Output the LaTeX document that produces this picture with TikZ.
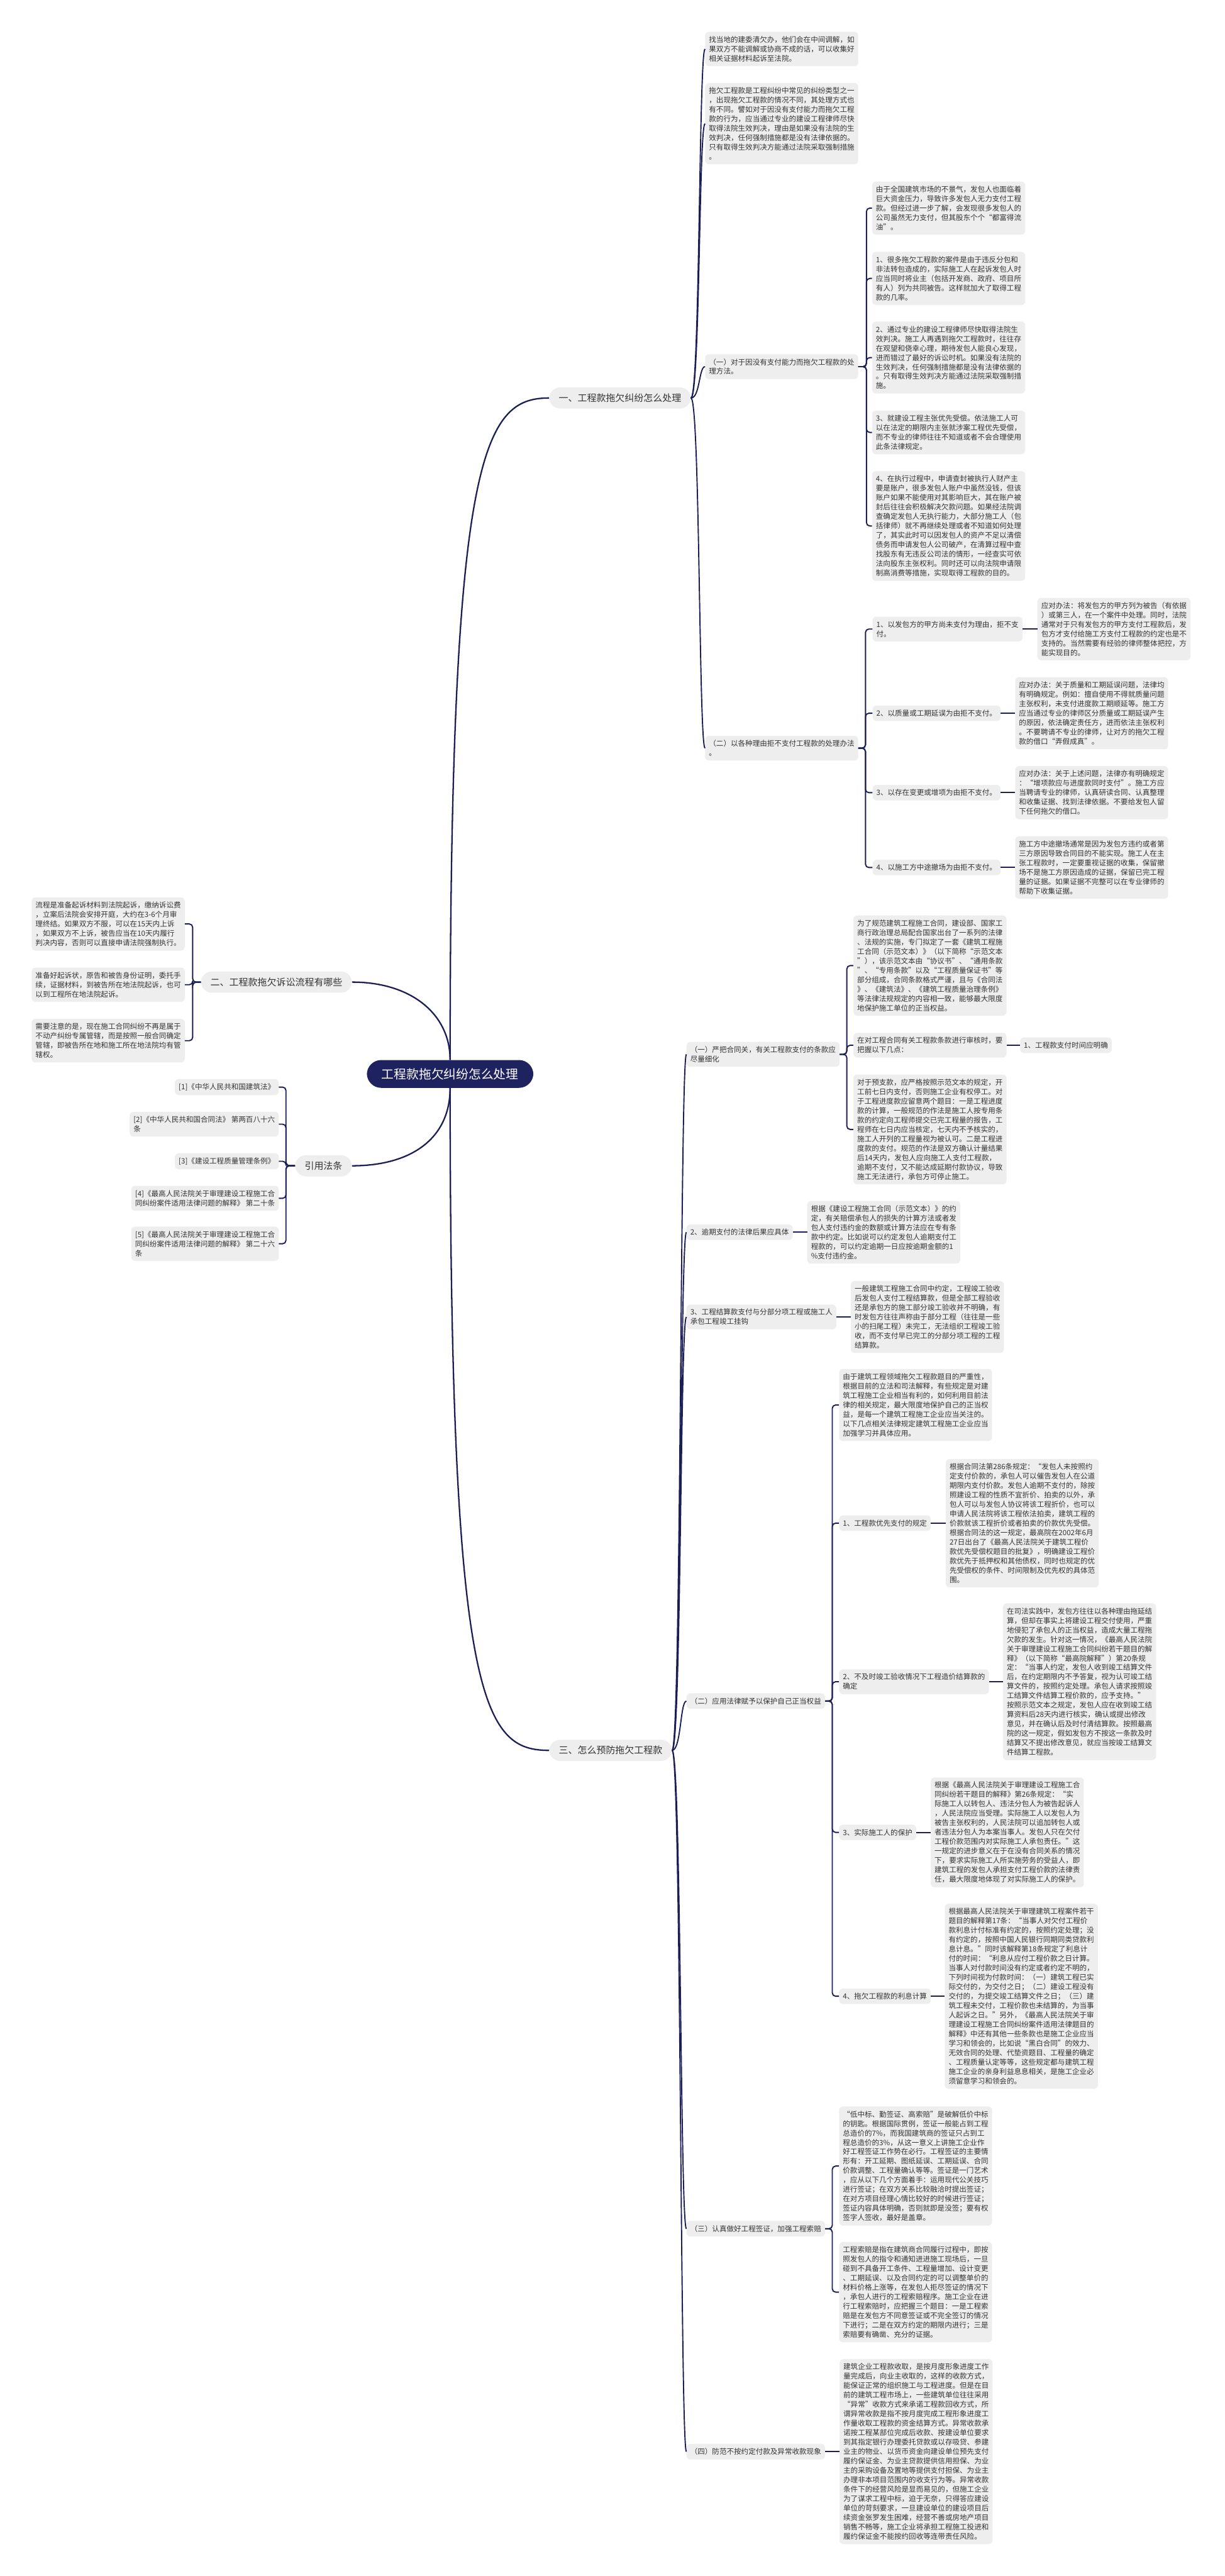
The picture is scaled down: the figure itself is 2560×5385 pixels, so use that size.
\documentclass[tikz,border=0pt]{standalone}
\usepackage{fontspec}
\setmainfont{Noto Sans CJK SC}
\usetikzlibrary{calc}
\definecolor{lc}{RGB}{27,31,84}
\definecolor{bg}{RGB}{238,238,238}
\definecolor{tc}{RGB}{51,51,51}
\definecolor{rootc}{RGB}{30,35,95}
\tikzset{
  conn/.style={draw=lc,line width=2.5pt},
  tbox/.style={fill=bg,rounded corners=8pt,align=left,inner xsep=8pt,inner ysep=9pt,
    font=\fontsize{15.2pt}{19.7pt}\selectfont,text=tc,anchor=west},
  lvlone/.style={fill=bg,rounded corners=23pt,inner xsep=20pt,inner ysep=13pt,
    font=\fontsize{19.7pt}{24pt}\selectfont,text=tc},
  rootbox/.style={fill=rootc,rounded corners=30pt,inner xsep=31pt,inner ysep=17pt,
    font=\fontsize{26pt}{30pt}\selectfont,text=white}
}
\newcommand\mmR[3]{\draw[conn,rounded corners=7pt] (#1.east) -- ++(#3,0) |- (#2.west);}
\newcommand\mmL[3]{\draw[conn,rounded corners=7pt] (#1.west) -- ++(-#3,0) |- (#2.east);}
\newcommand\mmC[2]{\draw[conn] (#1.east) .. controls +(19,0) and +(-13,0) .. (#2.west);}
\newcommand\mmS[2]{\draw[conn] (#1.east) -- (#2.west);}
\begin{document}
\begin{tikzpicture}[x=1pt,y=-1pt]
\fill[white] (0,0) rectangle (2560,5385);
\useasboundingbox (0,0) rectangle (2560,5385);

% root and level one
\node[rootbox] (root) at (941,2245) {工程款拖欠纠纷怎么处理};
\node[lvlone,anchor=west] (s1) at (1148,832) {一、工程款拖欠纠纷怎么处理};
\node[lvlone,anchor=east] (s2) at (736,2053) {二、工程款拖欠诉讼流程有哪些};
\node[lvlone,anchor=east] (s4) at (736,2437) {引用法条};
\node[lvlone,anchor=west] (s3) at (1148,3659) {三、怎么预防拖欠工程款};

\draw[conn,line width=3pt] (root.north) .. controls (941,950) and (1010,832) .. (s1.west);
\draw[conn,line width=3pt] (root.north) .. controls (941,2120) and (860,2053) .. (s2.east);
\draw[conn,line width=3pt] (root.south) .. controls (941,2380) and (860,2437) .. (s4.east);
\draw[conn,line width=3pt] (root.south) .. controls (941,3560) and (1010,3659) .. (s3.west);

% ===== section one =====
\node[tbox] (a1) at (1474,102.5) {找当地的建委清欠办，他们会在中间调解，如\\果双方不能调解或协商不成的话，可以收集好\\相关证据材料起诉至法院。};
\node[tbox] (a2) at (1474,258.5) {拖欠工程款是工程纠纷中常见的纠纷类型之一\\，出现拖欠工程款的情况不同，其处理方式也\\有不同。譬如对于因没有支付能力而拖欠工程\\款的行为，应当通过专业的建设工程律师尽快\\取得法院生效判决，理由是如果没有法院的生\\效判决，任何强制措施都是没有法律依据的。\\只有取得生效判决方能通过法院采取强制措施\\。};
\node[tbox] (a3) at (1474,766.5) {（一）对于因没有支付能力而拖欠工程款的处\\理方法。};
\node[tbox] (a4) at (1474,1564) {（二）以各种理由拒不支付工程款的处理办法\\。};
\mmC{s1}{a1}\mmC{s1}{a2}\mmC{s1}{a3}\mmC{s1}{a4}

\node[tbox] (b0) at (1823,435) {由于全国建筑市场的不景气，发包人也面临着\\巨大资金压力，导致许多发包人无力支付工程\\款。但经过进一步了解，会发现很多发包人的\\公司虽然无力支付，但其股东个个“都富得流\\油”。};
\node[tbox] (b1) at (1823,582) {1、很多拖欠工程款的案件是由于违反分包和\\非法转包造成的，实际施工人在起诉发包人时\\应当同时将业主（包括开发商、政府、项目所\\有人）列为共同被告。这样就加大了取得工程\\款的几率。};
\node[tbox] (b2) at (1823,747.5) {2、通过专业的建设工程律师尽快取得法院生\\效判决。施工人再遇到拖欠工程款时，往往存\\在观望和侥幸心理，期待发包人能良心发现，\\进而错过了最好的诉讼时机。如果没有法院的\\生效判决，任何强制措施都是没有法律依据的\\。只有取得生效判决方能通过法院采取强制措\\施。};
\node[tbox] (b3) at (1823,904) {3、就建设工程主张优先受偿。依法施工人可\\以在法定的期限内主张就涉案工程优先受偿，\\而不专业的律师往往不知道或者不会合理使用\\此条法律规定。};
\node[tbox] (b4) at (1823,1099.5) {4、在执行过程中，申请查封被执行人财产主\\要是账户，很多发包人账户中虽然没钱，但该\\账户如果不能使用对其影响巨大，其在账户被\\封后往往会积极解决欠款问题。如果经法院调\\查确定发包人无执行能力，大部分施工人（包\\括律师）就不再继续处理或者不知道如何处理\\了，其实此时可以因发包人的资产不足以清偿\\债务而申请发包人公司破产，在清算过程中查\\找股东有无违反公司法的情形，一经查实可依\\法向股东主张权利。同时还可以向法院申请限\\制高消费等措施，实现取得工程款的目的。};
\mmR{a3}{b0}{17}\mmR{a3}{b1}{17}\mmR{a3}{b2}{17}\mmR{a3}{b3}{17}\mmR{a3}{b4}{17}

\node[tbox] (c1) at (1824,1315) {1、以发包方的甲方尚未支付为理由，拒不支\\付。};
\node[tbox] (c2) at (1824,1491) {2、以质量或工期延误为由拒不支付。};
\node[tbox] (c3) at (1824,1657) {3、以存在变更或增项为由拒不支付。};
\node[tbox] (c4) at (1824,1813.5) {4、以施工方中途撤场为由拒不支付。};
\mmR{a4}{c1}{15}\mmR{a4}{c2}{15}\mmR{a4}{c3}{15}\mmR{a4}{c4}{15}

\node[tbox] (d1) at ($(c1.east)+(31,0)$) {应对办法：将发包方的甲方列为被告（有依据\\）或第三人，在一个案件中处理。同时，法院\\通常对于只有发包方的甲方支付工程款后，发\\包方才支付给施工方支付工程款的约定也是不\\支持的。当然需要有经验的律师整体把控，方\\能实现目的。};
\node[tbox] (d2) at ($(c2.east)+(30,0)$) {应对办法：关于质量和工期延误问题，法律均\\有明确规定。例如：擅自使用不得就质量问题\\主张权利，未支付进度款工期顺延等。施工方\\应当通过专业的律师区分质量或工期延误产生\\的原因，依法确定责任方，进而依法主张权利\\。不要聘请不专业的律师，让对方的拖欠工程\\款的借口“弄假成真”。};
\node[tbox] (d3) at ($(c3.east)+(30,0)$) {应对办法：关于上述问题，法律亦有明确规定\\：“增项款应与进度款同时支付”。施工方应\\当聘请专业的律师，认真研读合同、认真整理\\和收集证据、找到法律依据。不要给发包人留\\下任何拖欠的借口。};
\node[tbox] (d4) at ($(c4.east)+(30,0)$) {施工方中途撤场通常是因为发包方违约或者第\\三方原因导致合同目的不能实现。施工人在主\\张工程款时，一定要重视证据的收集，保留撤\\场不是施工方原因造成的证据，保留已完工程\\量的证据。如果证据不完整可以在专业律师的\\帮助下收集证据。};
\mmS{c1}{d1}\mmS{c2}{d2}\mmS{c3}{d3}\mmS{c4}{d4}

% ===== section two =====
\node[tbox] (e1) at (66,1931.5) {流程是准备起诉材料到法院起诉，缴纳诉讼费\\，立案后法院会安排开庭，大约在3-6个月审\\理终结。如果双方不服，可以在15天内上诉\\，如果双方不上诉，被告应当在10天内履行\\判决内容，否则可以直接申请法院强制执行。};
\node[tbox] (e2) at (66,2058.5) {准备好起诉状，原告和被告身份证明，委托手\\续，证据材料，到被告所在地法院起诉，也可\\以到工程所在地法院起诉。};
\node[tbox] (e3) at (66,2175.5) {需要注意的是，现在施工合同纠纷不再是属于\\不动产纠纷专属管辖，而是按照一般合同确定\\管辖，即被告所在地和施工所在地法院均有管\\辖权。};
\mmL{s2}{e1}{17}\mmL{s2}{e2}{17}\mmL{s2}{e3}{17}

% ===== cited laws =====
\node[tbox,anchor=east] (f1) at (583,2272.5) {[1]《中华人民共和国建筑法》};
\node[tbox,anchor=east] (f2) at (583,2350) {[2]《中华人民共和国合同法》 第两百八十六\\条};
\node[tbox,anchor=east] (f3) at (583,2427.5) {[3]《建设工程质量管理条例》};
\node[tbox,anchor=east] (f4) at (583,2505) {[4]《最高人民法院关于审理建设工程施工合\\同纠纷案件适用法律问题的解释》 第二十条};
\node[tbox,anchor=east] (f5) at (583,2600) {[5]《最高人民法院关于审理建设工程施工合\\同纠纷案件适用法律问题的解释》 第二十六\\条};
\mmL{s4}{f1}{19}\mmL{s4}{f2}{19}\mmL{s4}{f3}{19}\mmL{s4}{f4}{19}\mmL{s4}{f5}{19}

% ===== section three =====
\node[tbox] (g1) at (1435,2204) {（一）严把合同关，有关工程款支付的条款应\\尽量细化};
\node[tbox] (g2) at (1435,2576) {2、逾期支付的法律后果应具体};
\node[tbox] (g3) at (1435,2753) {3、工程结算款支付与分部分项工程或施工人\\承包工程竣工挂钩};
\node[tbox] (g4) at (1435,3556) {（二）应用法律赋予以保护自己正当权益};
\node[tbox] (g5) at (1435,4659) {（三）认真做好工程签证，加强工程索赔};
\node[tbox] (g6) at (1435,5125) {（四）防范不按约定付款及异常收款现象};
\mmC{s3}{g1}\mmC{s3}{g2}\mmC{s3}{g3}\mmC{s3}{g4}\mmC{s3}{g5}\mmC{s3}{g6}

\node[tbox] (h1) at (1784,2018.5) {为了规范建筑工程施工合同，建设部、国家工\\商行政治理总局配合国家出台了一系列的法律\\、法规的实施，专门拟定了一套《建筑工程施\\工合同（示范文本）》（以下简称“示范文本\\”），该示范文本由“协议书”、“通用条款\\”、“专用条款”以及“工程质量保证书”等\\部分组成，合同条款格式严谨，且与《合同法\\》、《建筑法》、《建筑工程质量治理条例》\\等法律法规规定的内容相一致，能够最大限度\\地保护施工单位的正当权益。};
\node[tbox] (h2) at (1784,2185) {在对工程合同有关工程款条款进行审核时，要\\把握以下几点：};
\node[tbox] (h3) at (1784,2361) {对于预支款，应严格按照示范文本的规定，开\\工前七日内支付，否则施工企业有权停工。对\\于工程进度款应留意两个题目：一是工程进度\\款的计算，一般规范的作法是施工人按专用条\\款的约定向工程师提交已完工程量的报告，工\\程师在七日内应当核定，七天内不予核实的，\\施工人开列的工程量视为被认可。二是工程进\\度款的支付。规范的作法是双方确认计量结果\\后14天内，发包人应向施工人支付工程款，\\逾期不支付，又不能达成延期付款协议，导致\\施工无法进行，承包方可停止施工。};
\mmR{g1}{h1}{15}\mmR{g1}{h2}{15}\mmR{g1}{h3}{15}
\node[tbox] (h2a) at ($(h2.east)+(28,0)$) {1、工程款支付时间应明确};
\mmS{h2}{h2a}

\node[tbox] (g2t) at ($(g2.east)+(30,0)$) {根据《建设工程施工合同（示范文本）》的约\\定，有关赔偿承包人的损失的计算方法或者发\\包人支付违约金的数额或计算方法应在专有条\\款中约定。比如说可以约定发包人逾期支付工\\程款的，可以约定逾期一日应按逾期金额的1\\\%支付违约金。};
\mmS{g2}{g2t}
\node[tbox] (g3t) at ($(g3.east)+(30,0)$) {一般建筑工程施工合同中约定，工程竣工验收\\后发包人支付工程结算款，但是全部工程验收\\还是承包方的施工部分竣工验收并不明确，有\\时发包方往往声称由于部分工程（往往是一些\\小的扫尾工程）未完工，无法组织工程竣工验\\收，而不支付早已完工的分部分项工程的工程\\结算款。};
\mmS{g3}{g3t}

\node[tbox] (k0) at (1754,2937) {由于建筑工程领域拖欠工程款题目的严重性，\\根据目前的立法和司法解释，有些规定是对建\\筑工程施工企业相当有利的，如何利用目前法\\律的相关规定，最大限度地保护自己的正当权\\益，是每一个建筑工程施工企业应当关注的。\\以下几点相关法律规定建筑工程施工企业应当\\加强学习并具体应用。};
\node[tbox] (k1) at (1754,3184) {1、工程款优先支付的规定};
\node[tbox] (k2) at (1754,3515.5) {2、不及时竣工验收情况下工程造价结算款的\\确定};
\node[tbox] (k3) at (1754,3830.5) {3、实际施工人的保护};
\node[tbox] (k4) at (1754,4173) {4、拖欠工程款的利息计算};
\mmR{g4}{k0}{15}\mmR{g4}{k1}{15}\mmR{g4}{k2}{15}\mmR{g4}{k3}{15}\mmR{g4}{k4}{15}

\node[tbox] (k1t) at ($(k1.east)+(31,0)$) {根据合同法第286条规定：“发包人未按照约\\定支付价款的，承包人可以催告发包人在公道\\期限内支付价款。发包人逾期不支付的，除按\\照建设工程的性质不宜折价、拍卖的以外，承\\包人可以与发包人协议将该工程折价，也可以\\申请人民法院将该工程依法拍卖，建筑工程的\\价款就该工程折价或者拍卖的价款优先受偿。\\根据合同法的这一规定，最高院在2002年6月\\27日出台了《最高人民法院关于建筑工程价\\款优先受偿权题目的批复》，明确建设工程价\\款优先于抵押权和其他债权，同时也规定的优\\先受偿权的条件、时间限制及优先权的具体范\\围。};
\node[tbox] (k2t) at ($(k2.east)+(29,0)$) {在司法实践中，发包方往往以各种理由拖延结\\算，但却在事实上将建设工程交付使用，严重\\地侵犯了承包人的正当权益，造成大量工程拖\\欠款的发生。针对这一情况，《最高人民法院\\关于审理建设工程施工合同纠纷若干题目的解\\释》（以下简称“最高院解释”）第20条规\\定：“当事人约定，发包人收到竣工结算文件\\后，在约定期限内不予答复，视为认可竣工结\\算文件的，按照约定处理。承包人请求按照竣\\工结算文件结算工程价款的，应予支持。”\\按照示范文本之规定，发包人应在收到竣工结\\算资料后28天内进行核实，确认或提出修改\\意见，并在确认后及时付清结算款。按照最高\\院的这一规定，假如发包方不按这一条款及时\\结算又不提出修改意见，就应当按竣工结算文\\件结算工程款。};
\node[tbox] (k3t) at ($(k3.east)+(30,0)$) {根据《最高人民法院关于审理建设工程施工合\\同纠纷若干题目的解释》第26条规定：“实\\际施工人以转包人、违法分包人为被告起诉人\\，人民法院应当受理。实际施工人以发包人为\\被告主张权利的，人民法院可以追加转包人或\\者违法分包人为本案当事人。发包人只在欠付\\工程价款范围内对实际施工人承包责任。”这\\一规定的进步意义在于在没有合同关系的情况\\下，要求实际施工人所实施劳务的受益人，即\\建筑工程的发包人承担支付工程价款的法律责\\任，最大限度地体现了对实际施工人的保护。};
\node[tbox] (k4t) at ($(k4.east)+(29,0)$) {根据最高人民法院关于审理建筑工程案件若干\\题目的解释第17条：“当事人对欠付工程价\\款利息计付标准有约定的，按照约定处理；没\\有约定的，按照中国人民银行同期同类贷款利\\息计息。”同时该解释第18条规定了利息计\\付的时间：“利息从应付工程价款之日计算。\\当事人对付款时间没有约定或者约定不明的，\\下列时间视为付款时间：（一）建筑工程已实\\际交付的，为交付之日；（二）建设工程没有\\交付的，为提交竣工结算文件之日；（三）建\\筑工程未交付，工程价款也未结算的，为当事\\人起诉之日。”另外，《最高人民法院关于审\\理建设工程施工合同纠纷案件适用法律题目的\\解释》中还有其他一些条款也是施工企业应当\\学习和领会的，比如说“黑白合同”的效力、\\无效合同的处理、代垫资题目、工程量的确定\\、工程质量认定等等，这些规定都与建筑工程\\施工企业的亲身利益息息相关，是施工企业必\\须留意学习和领会的。};
\mmS{k1}{k1t}\mmS{k2}{k2t}\mmS{k3}{k3t}\mmS{k4}{k4t}

\node[tbox] (q1) at (1754,4528) {“低中标、勤签证、高索赔”是破解低价中标\\的钥匙。根据国际贯例，签证一般能占到工程\\总造价的7\%，而我国建筑商的签证只占到工\\程总造价的3\%，从这一意义上讲施工企业作\\好工程签证工作势在必行。工程签证的主要情\\形有：开工延期、图纸延误、工期延误、合同\\价款调整、工程量确认等等。签证是一门艺术\\，应从以下几个方面着手：运用现代公关技巧\\进行签证；在双方关系比较融洽时提出签证；\\在对方项目经理心情比较好的时候进行签证；\\签证内容具体明确，否则就即是没签；要有权\\签字人签收，最好是盖章。};
\node[tbox] (q2) at (1754,4791.5) {工程索赔是指在建筑商合同履行过程中，即按\\照发包人的指令和通知进进施工现场后，一旦\\碰到不具备开工条件、工程量增加、设计变更\\、工期延误、以及合同约定的可以调整单价的\\材料价格上涨等，在发包人拒尽签证的情况下\\，承包人进行的工程索赔程序。施工企业在进\\行工程索赔时，应把握三个题目：一是工程索\\赔是在发包方不同意签证或不完全签订的情况\\下进行；二是在双方约定的期限内进行；三是\\索赔要有确凿、充分的证据。};
\mmR{g5}{q1}{15}\mmR{g5}{q2}{15}

\node[tbox] (r1) at ($(g6.east)+(30,0)$) {建筑企业工程款收取，是按月度形象进度工作\\量完成后，向业主收取的，这样的收款方式，\\能保证正常的组织施工与工程进度。但是在目\\前的建筑工程市场上，一些建筑单位往往采用\\“异常”收款方式来承诺工程款回收方式，所\\谓异常收款是指不按月度完成工程形象进度工\\作量收取工程款的资金结算方式。异常收款承\\诺按工程某部位完成后收款、按建设单位要求\\到其指定银行办理委托贷款或以存吸贷、参建\\业主的物业、以货币资金向建设单位预先支付\\履约保证金、为业主贷款提供信用担保、为业\\主的采购设备及置地等提供支付担保、为业主\\办理非本项目范围内的收支行为等。异常收款\\条件下的经营风险是显而易见的，但施工企业\\为了谋求工程中标，迫于无奈，只得答应建设\\单位的苛刻要求，一旦建设单位的建设项目后\\续资金张罗发生困难，经营不善或房地产项目\\销售不畅等，施工企业将承担工程施工投进和\\履约保证金不能按约回收等连带责任风险。};
\mmS{g6}{r1}
\end{tikzpicture}
\end{document}
